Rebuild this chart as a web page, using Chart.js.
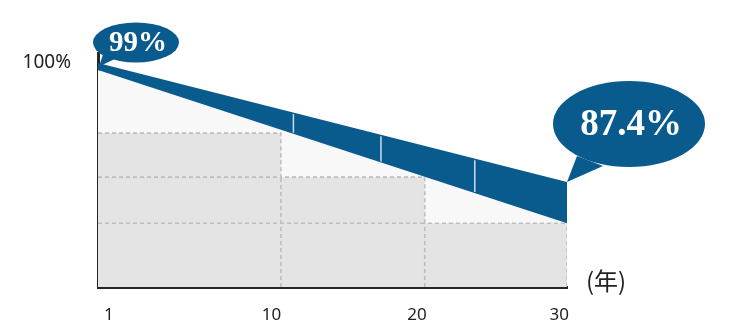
<!DOCTYPE html>
<html>
<head>
<meta charset="utf-8">
<script src="https://cdn.jsdelivr.net/npm/chart.js@4.4.1/dist/chart.umd.min.js"></script>
<style>
	body { margin: 0; background: #fff; }
	#wrap { width: 738px; height: 334px; }
</style>
</head>
<body>
<div id="wrap"><canvas id="DegradeChart" width="738" height="334"></canvas></div>
<script>
// Band (years vs output %)
const bandYears = [0, 30];
const bandTop = [100, 87.4];
const bandBottom = [99.25, 83.05];

// Grey warranty steps
const stepEdges = [0, 11.7, 20.9, 30];
const stepLevels = [92.58, 87.92, 83.05];

// Thin dividers inside the blue band
const dividerYears = [12.5, 18.1, 24.1];

// Axis ticks
const xTickPos = [0.7, 11.1, 20.4, 29.5];
const xTickLabels = ["1", "10", "20", "30"];
const yTicks = [100];

// Bubble labels
const firstLabel = "99%";
const lastLabel = "87.4%";

const yMin = 76.3;
const yMax = 101.05;
const blue = "#0a5b8d";

function pts(xs, ys) {
	return xs.map((x, i) => ({ x: x, y: ys[i] }));
}

// Build the dashed cell lines from the step arrays
const dashSets = [];
for (let i = 1; i < stepEdges.length; i++) {
	// vertical at each step edge, from the axis up to the lower level
	dashSets.push([{ x: stepEdges[i], y: yMin }, { x: stepEdges[i], y: stepLevels[Math.min(i, stepLevels.length - 1)] }]);
}
for (let i = 1; i < stepLevels.length; i++) {
	// horizontal through the earlier (taller) steps
	dashSets.push([{ x: stepEdges[0], y: stepLevels[i] }, { x: stepEdges[i], y: stepLevels[i] }]);
}

// step line: each level holds until the next edge
const stepData = [{ x: stepEdges[0], y: stepLevels[0] }];
for (let i = 1; i < stepEdges.length; i++) {
	stepData.push({ x: stepEdges[i], y: stepLevels[Math.min(i, stepLevels.length - 1)] });
}

const datasets = [
	{
		// band top, filled down to band bottom
		data: pts(bandYears, bandTop),
		borderWidth: 0,
		backgroundColor: blue,
		fill: "+1",
		order: 1,
	},
	{
		data: pts(bandYears, bandBottom),
		borderWidth: 0,
		fill: false,
		order: 2,
	},
	{
		// light area under the band
		data: pts(bandYears, bandBottom),
		borderWidth: 0,
		backgroundColor: "#f8f8f8",
		fill: "start",
		order: 9,
	},
	{
		data: stepData,
		stepped: "before",
		borderColor: "#bdbdbd",
		borderWidth: 1.6,
		borderDash: [4, 3],
		backgroundColor: "#e4e4e4",
		fill: "start",
		order: 8,
	},
];
dashSets.forEach(function (d) {
	datasets.push({
		data: d,
		borderColor: "#bdbdbd",
		borderWidth: 1.6,
		borderDash: [4, 3],
		fill: false,
		order: 7,
	});
});

function lerp(xs, ys, x) {
	const t = (x - xs[0]) / (xs[1] - xs[0]);
	return ys[0] + (ys[1] - ys[0]) * t;
}

function drawBubble(ctx, cx, cy, rx, ry, tail, text, size) {
	ctx.save();
	ctx.fillStyle = blue;
	ctx.beginPath();
	ctx.ellipse(cx, cy, rx, ry, 0, 0, Math.PI * 2);
	ctx.fill();
	ctx.beginPath();
	ctx.moveTo(tail[0][0], tail[0][1]);
	ctx.lineTo(tail[1][0], tail[1][1]);
	ctx.lineTo(tail[2][0], tail[2][1]);
	ctx.closePath();
	ctx.fill();
	ctx.fillStyle = "#fff";
	ctx.font = "bold " + size + "px 'Liberation Serif'";
	ctx.textAlign = "center";
	ctx.textBaseline = "alphabetic";
	ctx.fillText(text, cx + 2, cy + size * 0.3);
	ctx.restore();
}

const extras = {
	id: "extras",
	afterDatasetsDraw: function (chart) {
		const ctx = chart.ctx;
		const xs = chart.scales.x;
		const ys = chart.scales.y;

		// dividers in the band
		ctx.save();
		ctx.strokeStyle = "rgba(225,236,244,0.9)";
		ctx.lineWidth = 1.5;
		dividerYears.forEach(function (yr) {
			const px = xs.getPixelForValue(yr);
			ctx.beginPath();
			ctx.moveTo(px, ys.getPixelForValue(lerp(bandYears, bandTop, yr)) + 1.5);
			ctx.lineTo(px, ys.getPixelForValue(lerp(bandYears, bandBottom, yr)) - 1);
			ctx.stroke();
		});
		ctx.restore();

		// first-year bubble
		const p0x = xs.getPixelForValue(bandYears[0]) + 1;
		const p0y = ys.getPixelForValue((bandTop[0] + bandBottom[0]) / 2);
		drawBubble(ctx, p0x + 37, p0y - 24, 43, 20,
			[[p0x, p0y], [p0x + 5, p0y - 15], [p0x + 19, p0y - 9]],
			firstLabel, 29);

		// last-year bubble
		const p1x = xs.getPixelForValue(bandYears[1]);
		const p1y = ys.getPixelForValue(bandTop[1]);
		drawBubble(ctx, p1x + 62, p1y - 58, 76, 43,
			[[p1x, p1y], [p1x + 10, p1y - 26], [p1x + 36, p1y - 16]],
			lastLabel, 37);

		// unit label
		ctx.save();
		ctx.fillStyle = "#222";
		ctx.font = "24px 'Noto Sans CJK JP'";
		ctx.textAlign = "center";
		ctx.textBaseline = "middle";
		ctx.fillText("(年)", chart.chartArea.right + 39, chart.chartArea.bottom - 6);
		ctx.restore();
	},
};

const DegradeChart = new Chart(document.getElementById("DegradeChart").getContext("2d"), {
	type: "line",
	data: { datasets: datasets },
	options: {
		responsive: false,
		animation: false,
		events: [],
		layout: { padding: { top: 53, right: 171, left: 0, bottom: 0 } },
		elements: { point: { radius: 0 }, line: { tension: 0 } },
		plugins: {
			legend: { display: false },
			tooltip: { enabled: false },
		},
		scales: {
			x: {
				type: "linear",
				min: 0,
				max: 30,
				grid: { display: false },
				border: { display: true, color: "#262626", width: 3 },
				afterBuildTicks: function (scale) {
					scale.ticks = xTickPos.map((v) => ({ value: v }));
				},
				afterFit: function (scale) {
					scale.height = 47;
				},
				ticks: {
					autoSkip: false,
					maxRotation: 0,
					padding: 10,
					color: "#222",
					font: { family: "'Noto Sans'", size: 17 },
					callback: function (value, index) {
						return xTickLabels[index];
					},
				},
			},
			y: {
				type: "linear",
				min: yMin,
				max: yMax,
				grid: { display: false },
				border: { display: true, color: "#262626", width: 3 },
				afterBuildTicks: function (scale) {
					scale.ticks = yTicks.map((v) => ({ value: v }));
				},
				afterFit: function (scale) {
					scale.width = 98;
				},
				ticks: {
					padding: 19,
					color: "#222",
					font: { family: "'Noto Sans'", size: 19 },
					callback: function (value) {
						return value + "%";
					},
				},
			},
		},
	},
	plugins: [extras],
});
</script>
</body>
</html>
